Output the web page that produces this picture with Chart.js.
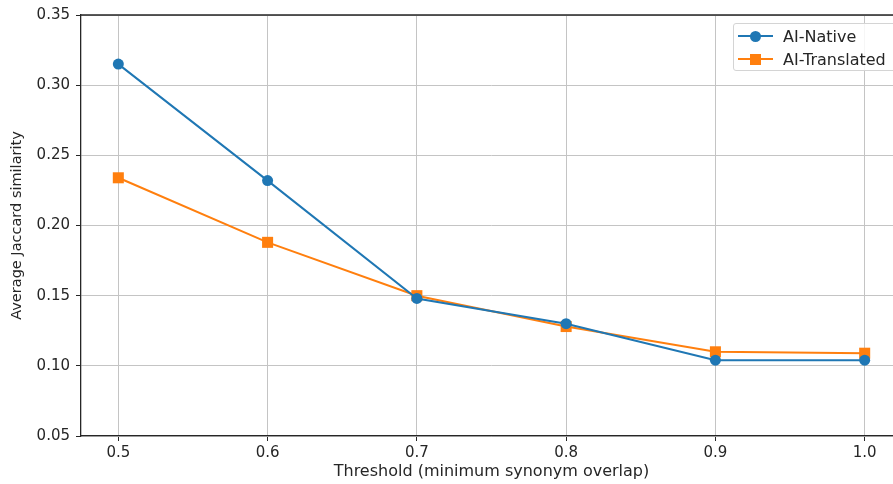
<!DOCTYPE html>
<html>
<head>
<meta charset="utf-8">
<script src="https://cdn.jsdelivr.net/npm/chart.js@4.4.1/dist/chart.umd.min.js"></script>
<style>
  html, body { margin: 0; padding: 0; background: #fff; overflow: hidden; }
  #wrap { position: relative; width: 920px; height: 484px; }
  #legend {
    position: absolute; left: 733px; top: 23px; width: 175px; height: 46px;
    border: 1px solid #d4d4d4; border-radius: 3px; background: rgba(255,255,255,0.85);
    font-family: "DejaVu Sans", sans-serif; font-size: 16px; color: #262626;
  }
  .row { position: absolute; left: 0; height: 20px; display: flex; align-items: center; }
  .sw { position: relative; width: 35px; height: 20px; margin-left: 4px; margin-right: 10px; }
  .sw .ln { position: absolute; left: 0; right: 0; top: 9px; height: 2px; }
  .sw .mk { position: absolute; left: 12px; top: 5px; width: 11px; height: 11px; }
</style>
</head>
<body>
<div id="wrap">
  <canvas id="chart"></canvas>
  <div id="legend"></div>
</div>
<script>
const thresholds = [0.5, 0.6, 0.7, 0.8, 0.9, 1.0];
const aiNative = [0.315, 0.232, 0.148, 0.130, 0.104, 0.104];
const aiTranslated = [0.234, 0.188, 0.150, 0.128, 0.110, 0.109];
const yTicks = [0.05, 0.10, 0.15, 0.20, 0.25, 0.30, 0.35];

const blue = '#1f77b4';
const orange = '#ff7f0e';
const gridColor = '#c4c4c4';
const spine = '#262626';
const tickFont = { family: 'DejaVu Sans', size: 15 };

function toPoints(values) {
  return thresholds.map((t, i) => ({ x: t, y: values[i] }));
}

// top and right spines (matplotlib box)
const topSpine = {
  id: 'topSpine',
  afterDraw(chart) {
    const { ctx, chartArea } = chart;
    ctx.save();
    ctx.strokeStyle = spine;
    ctx.lineWidth = 1.3;
    ctx.beginPath();
    ctx.moveTo(chartArea.left, chartArea.top);
    ctx.lineTo(chartArea.right, chartArea.top);
    ctx.lineTo(chartArea.right, chartArea.bottom);
    ctx.stroke();
    ctx.restore();
  }
};

const datasets = [
  {
    label: 'AI-Native',
    data: toPoints(aiNative),
    borderColor: blue,
    backgroundColor: blue,
    borderWidth: 2,
    pointStyle: 'circle',
    pointRadius: 5.5,
    pointBorderWidth: 0,
    tension: 0
  },
  {
    label: 'AI-Translated',
    data: toPoints(aiTranslated),
    borderColor: orange,
    backgroundColor: orange,
    borderWidth: 2,
    pointStyle: 'rect',
    pointRadius: 7.8,
    pointBorderWidth: 0,
    tension: 0
  }
];

const ctx = document.getElementById('chart').getContext('2d');
new Chart(ctx, {
  type: 'line',
  data: { datasets: datasets },
  options: {
    responsive: true,
    maintainAspectRatio: false,
    animation: false,
    layout: { padding: { top: 15, right: 18, left: 0, bottom: 0 } },
    plugins: {
      legend: { display: false },
      tooltip: { enabled: false }
    },
    scales: {
      x: {
        type: 'linear',
        min: 0.475,
        max: 1.025,
        afterBuildTicks: scale => { scale.ticks = thresholds.map(v => ({ value: v })); },
        afterFit: scale => { scale.height = 48; },
        ticks: {
          color: '#262626',
          font: tickFont,
          padding: 3,
          callback: v => v.toFixed(1)
        },
        grid: { color: gridColor, lineWidth: 1, tickColor: spine, tickLength: 5 },
        border: { color: spine, width: 1.3 },
        title: {
          display: true,
          text: 'Threshold (minimum synonym overlap)',
          color: '#262626',
          font: { family: 'DejaVu Sans', size: 16 },
          padding: { top: 0, bottom: 3 }
        }
      },
      y: {
        min: 0.05,
        max: 0.35,
        afterBuildTicks: scale => { scale.ticks = yTicks.map(v => ({ value: v })); },
        afterFit: scale => { scale.width = 81; },
        ticks: {
          color: '#262626',
          font: tickFont,
          padding: 6,
          callback: v => v.toFixed(2)
        },
        grid: { color: gridColor, lineWidth: 1, tickColor: spine, tickLength: 5 },
        border: { color: spine, width: 1.3 },
        title: {
          display: true,
          text: 'Average Jaccard similarity',
          color: '#262626',
          font: { family: 'DejaVu Sans', size: 14.5 },
          padding: { top: 9, bottom: 0 }
        }
      }
    }
  },
  plugins: [topSpine]
});

// legend inside the axes, upper right
const legend = document.getElementById('legend');
datasets.forEach((ds, i) => {
  const row = document.createElement('div');
  row.className = 'row';
  row.style.top = (2 + i * 23) + 'px';
  const shape = ds.pointStyle === 'circle' ? 'border-radius:50%;' : '';
  row.innerHTML = `
    <span class="sw"><span class="ln" style="background:${ds.borderColor}"></span>
    <span class="mk" style="background:${ds.borderColor};${shape}"></span></span>
    <span>${ds.label}</span>`;
  legend.appendChild(row);
});
</script>
</body>
</html>
